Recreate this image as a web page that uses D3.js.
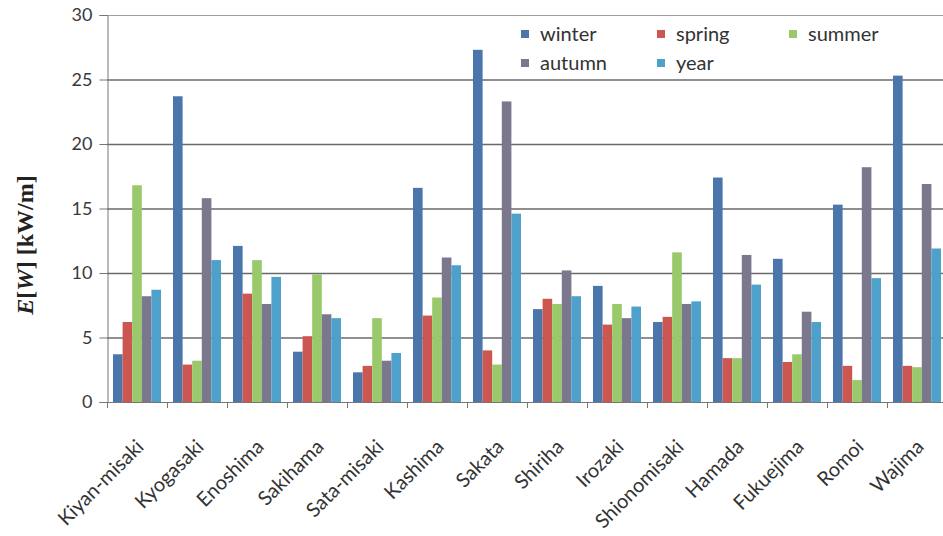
<!DOCTYPE html>
<html>
<head>
<meta charset="utf-8">
<script src="https://cdn.jsdelivr.net/npm/d3@7/dist/d3.min.js"></script>
<style>
  html, body { margin: 0; padding: 0; background: #fff; }
  svg { display: block; }
</style>
</head>
<body>
<svg id="chart" width="943" height="536"></svg>
<script>
// Wave energy flux per site, by season and annual mean
const sites = ["Kiyan-misaki", "Kyogasaki", "Enoshima", "Sakihama", "Sata-misaki", "Kashima", "Sakata",
               "Shiriha", "Irozaki", "Shionomisaki", "Hamada", "Fukuejima", "Romoi", "Wajima"];
const seriesNames = ["winter", "spring", "summer", "autumn", "year"];
const winter = [3.7, 23.7, 12.1, 3.9, 2.3, 16.6, 27.3, 7.2, 9.0, 6.2, 17.4, 11.1, 15.3, 25.3];
const spring = [6.2, 2.9, 8.4, 5.1, 2.8, 6.7, 4.0, 8.0, 6.0, 6.6, 3.4, 3.1, 2.8, 2.8];
const summer = [16.8, 3.2, 11.0, 9.9, 6.5, 8.1, 2.9, 7.6, 7.6, 11.6, 3.4, 3.7, 1.7, 2.7];
const autumn = [8.2, 15.8, 7.6, 6.8, 3.2, 11.2, 23.3, 10.2, 6.5, 7.6, 11.4, 7.0, 18.2, 16.9];
const year   = [8.7, 11.0, 9.7, 6.5, 3.8, 10.6, 14.6, 8.2, 7.4, 7.8, 9.1, 6.2, 9.6, 11.9];
const yTicks = [0, 5, 10, 15, 20, 25, 30];
const colors = ["#4a76ab", "#cc5650", "#9ac96c", "#7b778c", "#4ea1cb"];

const values = [winter, spring, summer, autumn, year];
const rows = sites.map((s, i) => ({ site: s, vals: seriesNames.map((n, k) => ({ key: n, v: values[k][i] })) }));

const svg = d3.select("#chart");
const W = 943;
const mLeft = 107, mTop = 15, mBottom = 402, mRight = 947;
const sans = "Lato, 'Open Sans', 'Liberation Sans', sans-serif";

const x = d3.scaleBand().domain(sites).range([mLeft, mRight]).paddingInner(0.2).paddingOuter(0.1);
const xs = d3.scaleBand().domain(seriesNames).range([0, x.bandwidth()]).padding(0);
const y = d3.scaleLinear().domain([0, 30]).range([mBottom, mTop]);
const color = d3.scaleOrdinal().domain(seriesNames).range(colors);

// horizontal gridlines
svg.append("g").selectAll("line").data(yTicks.filter(d => d > 0)).join("line")
  .attr("x1", mLeft).attr("x2", W)
  .attr("y1", d => y(d) + 0.5).attr("y2", d => y(d) + 0.5)
  .attr("stroke", d => d === 30 ? "#a0a0a0" : "#6a6a6a")
  .attr("stroke-width", d => d === 30 ? 1 : 1.3);

// bars
const groups = svg.append("g").selectAll("g").data(rows).join("g")
  .attr("transform", d => `translate(${x(d.site)},0)`);
groups.selectAll("rect").data(d => d.vals).join("rect")
  .attr("x", d => xs(d.key))
  .attr("width", xs.bandwidth())
  .attr("y", d => y(d.v))
  .attr("height", d => y(0) - y(d.v))
  .attr("fill", d => color(d.key));

// y axis
const yAxis = d3.axisLeft(y).tickValues(yTicks).tickSize(8).tickPadding(7);
const gy = svg.append("g").attr("transform", `translate(${mLeft + 0.5},0)`).call(yAxis);
gy.select(".domain").attr("stroke", "#777");
gy.selectAll(".tick line").attr("stroke", "#777");
gy.selectAll(".tick text").attr("fill", "#3a3a3a")
  .style("font-family", sans).style("font-size", "18px");

// x axis baseline and category boundary ticks
svg.append("line").attr("x1", mLeft).attr("x2", W).attr("y1", mBottom + 0.5).attr("y2", mBottom + 0.5)
  .attr("stroke", "#777");
const step = x.step();
svg.append("g").selectAll("line").data(d3.range(sites.length + 1)).join("line")
  .attr("x1", i => mLeft + i * step + 0.5).attr("x2", i => mLeft + i * step + 0.5)
  .attr("y1", mBottom).attr("y2", mBottom + 6)
  .attr("stroke", "#777");

// rotated category labels
svg.append("g").selectAll("text").data(sites).join("text")
  .attr("transform", d => `translate(${x(d) + x.bandwidth() / 2 + 8},${mBottom + 46}) rotate(-45)`)
  .attr("text-anchor", "end")
  .attr("fill", "#333")
  .style("font-family", sans)
  .style("font-size", "20px")
  .text(d => d);

// y axis title
const title = svg.append("text")
  .attr("transform", `translate(33,245) rotate(-90)`)
  .attr("text-anchor", "middle")
  .style("font-family", "'Liberation Serif', 'DejaVu Serif', serif")
  .style("font-size", "24px").style("font-weight", "bold").attr("fill", "#222");
title.append("tspan").style("font-style", "italic").text("E");
title.append("tspan").text("[");
title.append("tspan").style("font-style", "italic").text("W");
title.append("tspan").text("] [kW/m]");

// legend
const legendPos = [[521, 34], [657, 34], [789, 34], [521, 63], [657, 63]];
const lg = svg.append("g").selectAll("g").data(seriesNames).join("g")
  .attr("transform", (d, i) => `translate(${legendPos[i][0]},${legendPos[i][1]})`);
lg.append("rect").attr("x", 0).attr("y", -4).attr("width", 8).attr("height", 8).attr("fill", d => color(d));
lg.append("text").attr("x", 19).attr("y", 0).attr("dy", "0.35em")
  .attr("fill", "#333")
  .style("font-family", sans).style("font-size", "20px")
  .text(d => d);
</script>
</body>
</html>
